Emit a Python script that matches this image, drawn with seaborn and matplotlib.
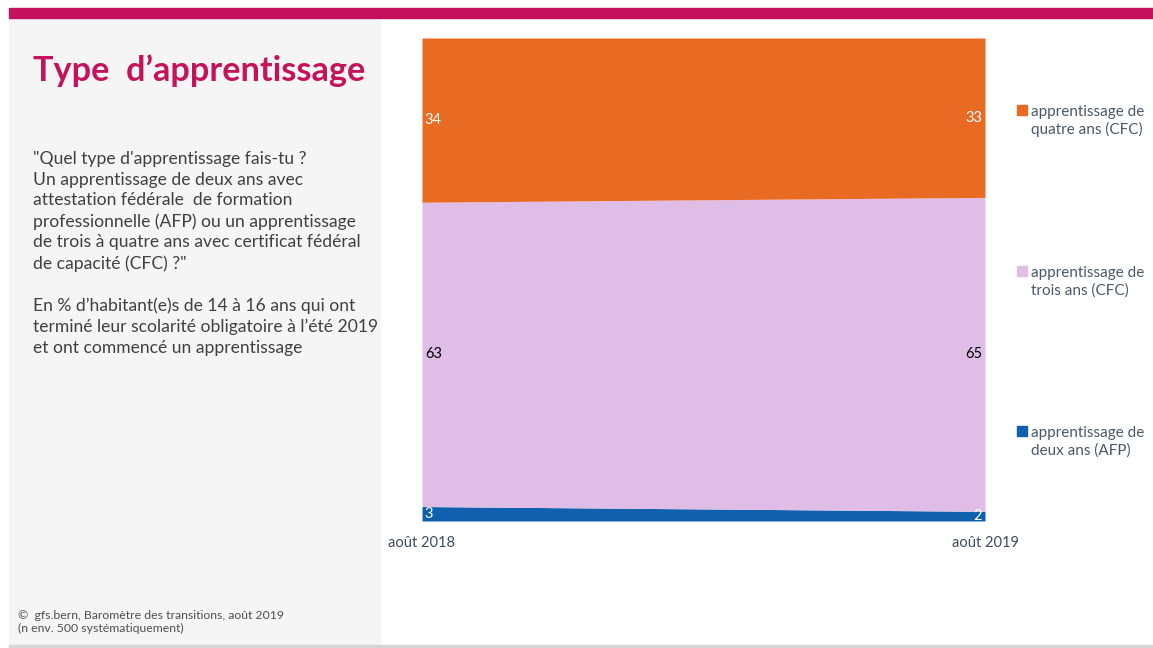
"""Type d'apprentissage - aire empilee 100%"""
import numpy as np
import pandas as pd
import matplotlib.pyplot as plt
import seaborn as sns
from matplotlib.patches import Rectangle

# Donnees (en %)
periods = ['août 2018', 'août 2019']
deux_ans = [3, 2]
trois_ans = [63, 65]
quatre_ans = [34, 33]
series_names = ['apprentissage de\ndeux ans (AFP)',
                'apprentissage de\ntrois ans (CFC)',
                'apprentissage de\nquatre ans (CFC)']

colors = ['#1060AE', '#E0BDE6', '#E86A23']
label_colors = ['white', 'black', 'white']

sns.set_theme(style='white')
plt.rcParams['font.family'] = ['Lato', 'DejaVu Sans']

fig = plt.figure(figsize=(11.53, 6.48), dpi=100)

# Panneau gris a gauche, bandeau magenta en haut
fig.patches.append(Rectangle((9 / 1153, 3 / 648), (380 - 9) / 1153, (630 - 3) / 648,
                             transform=fig.transFigure, color='#F5F5F5', zorder=0))
fig.patches.append(Rectangle((9 / 1153, 1 - 18 / 648), 1, 10 / 648,
                             transform=fig.transFigure, color='#C4135C', zorder=1))
fig.patches.append(Rectangle((9 / 1153, 0), 1, 3 / 648,
                             transform=fig.transFigure, color='#D5D5D5', zorder=1))

ax = fig.add_axes([422 / 1153, 1 - 521 / 648, (985 - 422) / 1153, (521 - 38) / 648])
df = pd.DataFrame({'x': [0, 1], 'deux': deux_ans, 'trois': trois_ans, 'quatre': quatre_ans})
ax.stackplot(df['x'], df['deux'], df['trois'], df['quatre'], colors=colors, linewidth=0)
ax.set_xlim(0, 1)
ax.set_ylim(0, 100)
ax.set_yticks([])
ax.set_xticks([0, 1])
ax.set_xticklabels(periods, fontsize=10.5, color='#3D4D5D')
ax.tick_params(axis='x', length=0, pad=11)
sns.despine(ax=ax, left=True, bottom=True)

# Etiquettes des valeurs
vals = np.array([deux_ans, trois_ans, quatre_ans])
cum = np.cumsum(vals, axis=0)
for i in range(3):
    for j, (xpos, ha, off) in enumerate([(0, 'left', 0.005), (1, 'right', -0.005)]):
        mid = cum[i, j] - vals[i, j] / 2
        ax.text(xpos + off, mid, str(vals[i, j]), ha=ha, va='center',
                fontsize=10.5, color=label_colors[i])

# Legende manuelle
legend_y = [121, 282, 442]
for name, col, yy in zip(series_names[::-1], colors[::-1], legend_y):
    fig.patches.append(Rectangle((1017 / 1153, 1 - (yy - 6) / 648), 10 / 1153, 10 / 648,
                                 transform=fig.transFigure, color=col))
    fig.text(1031 / 1153, 1 - yy / 648, name, ha='left', va='center',
             fontsize=11, color='#4A5868', linespacing=1.25)

# Titre et texte explicatif
fig.text(33 / 1153, 1 - 71 / 648, 'Type  d\u2019apprentissage', fontsize=24.7,
         fontweight='bold', color='#C4135C', va='center')
question = ('"Quel type d\'apprentissage fais-tu ?\n'
            'Un apprentissage de deux ans avec\n'
            'attestation fédérale  de formation\n'
            'professionnelle (AFP) ou un apprentissage\n'
            'de trois à quatre ans avec certificat fédéral\n'
            'de capacité (CFC) ?"\n'
            '\n'
            'En % d\u2019habitant(e)s de 14 à 16 ans qui ont\n'
            'terminé leur scolarité obligatoire à l\u2019été 2019\n'
            'et ont commencé un apprentissage')
fig.text(33 / 1153, 1 - 151 / 648, question, fontsize=12.6, color='#404040',
         va='top', linespacing=1.36)
fig.text(18 / 1153, 1 - 610 / 648, '©  gfs.bern, Baromètre des transitions, août 2019\n'
         '(n env. 500 systématiquement)', fontsize=8.8, color='#505050',
         va='top', linespacing=1.2)

fig.savefig('out.png', dpi=100)
